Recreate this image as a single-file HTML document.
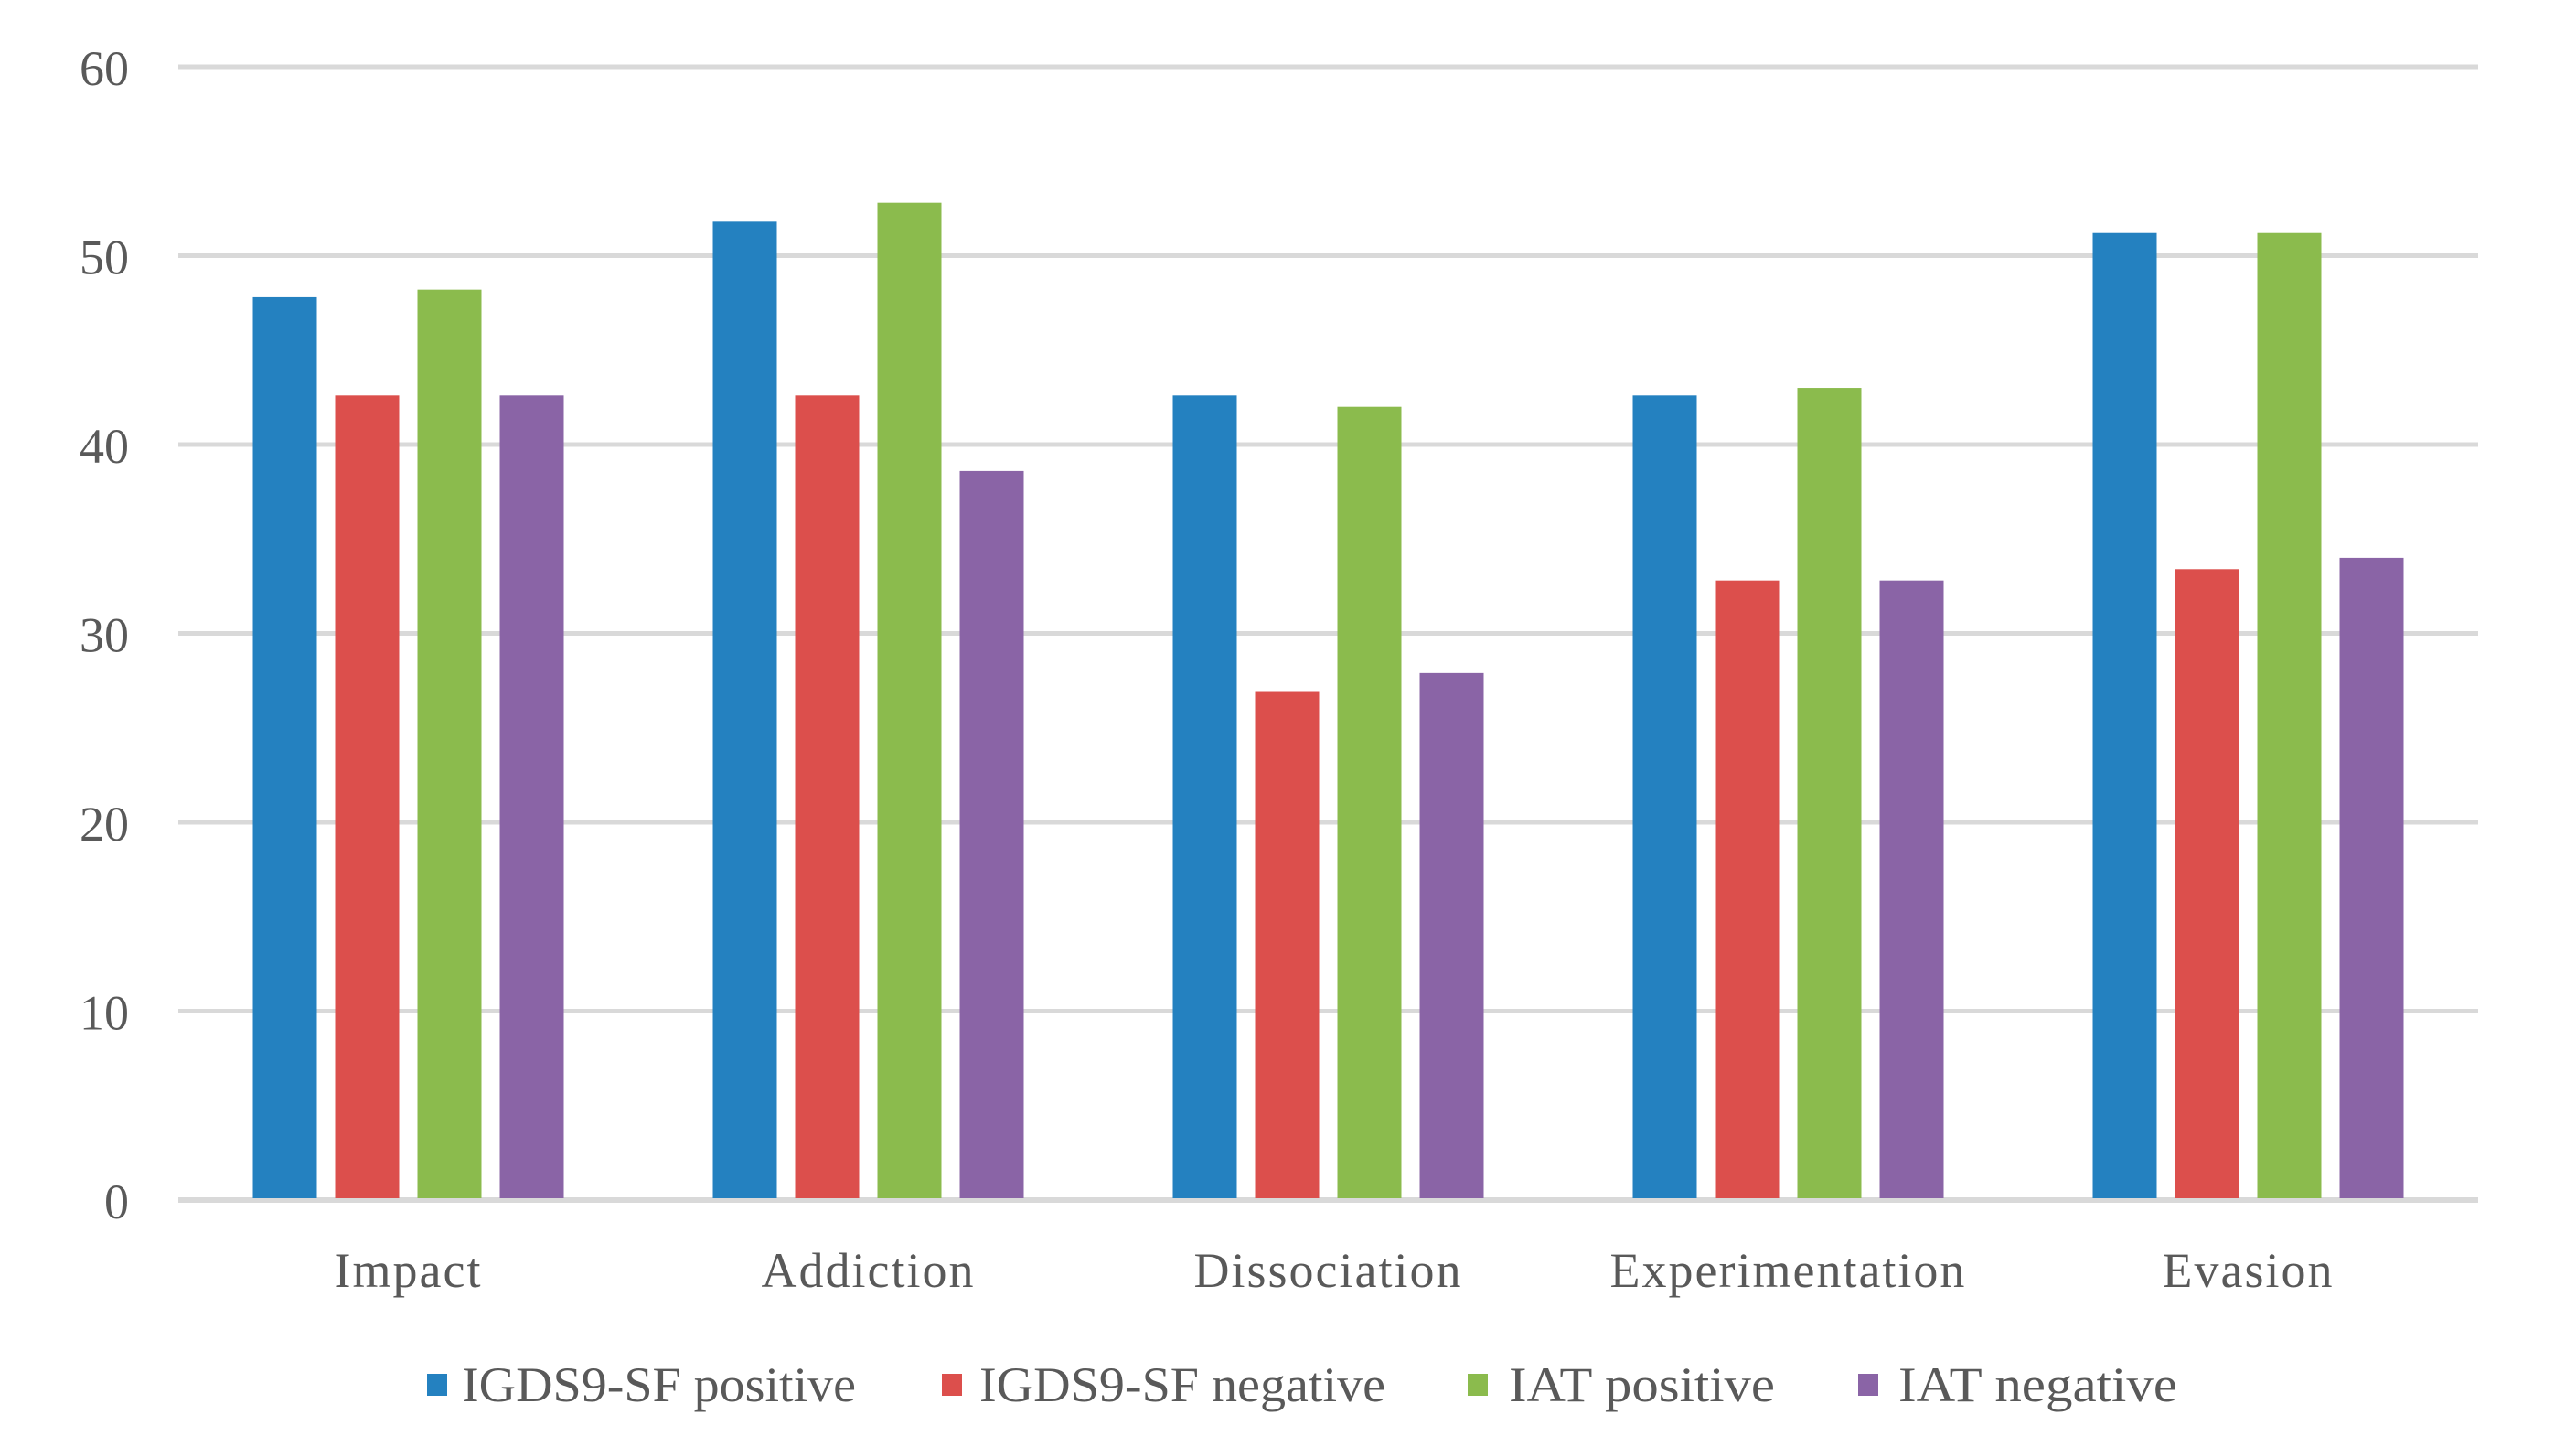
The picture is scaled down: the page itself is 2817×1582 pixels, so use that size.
<!DOCTYPE html>
<html><head><meta charset="utf-8"><style>
html,body{margin:0;padding:0;background:#fff;}
svg{display:block;}
text{font-family:"Liberation Serif",serif;fill:#595959;}
</style></head><body>
<svg id="chart" width="2817" height="1582" viewBox="0 0 2817 1582" xmlns="http://www.w3.org/2000/svg">
<g id="grid"></g>
<g id="yticks"></g>
<g id="bars"></g>
<g id="xlabels"></g>
<g id="legend"></g>
</svg>
<script>
const categories = ["Impact","Addiction","Dissociation","Experimentation","Evasion"];
const seriesNames = ["IGDS9-SF positive","IGDS9-SF negative","IAT positive","IAT negative"];
const igdsPositive = [47.8, 51.8, 42.6, 42.6, 51.2];
const igdsNegative = [42.6, 42.6, 26.9, 32.8, 33.4];
const iatPositive = [48.2, 52.8, 42.0, 43.0, 51.2];
const iatNegative = [42.6, 38.6, 27.9, 32.8, 34.0];
const yTicks = [0,10,20,30,40,50,60];

const series = [igdsPositive, igdsNegative, iatPositive, iatNegative];
const colors = ["#2481c0","#dc4f4c","#8bbb4d","#8a64a6"];
const NS = "http://www.w3.org/2000/svg";
const plotL = 195, plotR = 2710, y0 = 1312, y60 = 73;
const yMax = 60;
function y(v){ return y0 - (v / yMax) * (y0 - y60); }
const groupW = (plotR - plotL) / categories.length;
function xc(i){ return plotL + groupW * (i + 0.5); }
const barW = 70, gap = 20;

function mk(tag, attrs, parent){
  const e = document.createElementNS(NS, tag);
  for (const k in attrs) e.setAttribute(k, attrs[k]);
  parent.appendChild(e);
  return e;
}
const grid = document.getElementById('grid');
const yt = document.getElementById('yticks');
yTicks.forEach(t => {
  const l = mk('line', {x1: plotL, x2: plotR, y1: y(t), y2: y(t), stroke: '#d9d9d9', 'stroke-width': t === 0 ? 6 : 5}, grid);
  
  
  const tx = mk('text', {x: 141, y: y(t) + 20, 'text-anchor': 'end', 'font-size': 54}, yt);
  tx.textContent = t;
  
  
});
const bars = document.getElementById('bars');
const total = 4 * barW + 3 * gap;
categories.forEach((c, i) => {
  series.forEach((s, j) => {
    const x = xc(i) - total / 2 + j * (barW + gap);
    const r = mk('rect', {x: x, y: y(s[i]), width: barW, height: y0 - y(s[i]) - 2, fill: colors[j]}, bars);
    
    
  });
});
const xl = document.getElementById('xlabels');
categories.forEach((c, i) => {
  const t = mk('text', {x: xc(i), y: 1407, 'text-anchor': 'middle', 'font-size': 54, 'letter-spacing': 2}, xl);
  t.textContent = c;
  
  
});
const lg = document.getElementById('legend');
const legX = [467, 1030, 1605, 2032];
const legTextX = [505, 1071, 1650, 2076];
const legTextW = [431, 444, 291, 305];
seriesNames.forEach((n, j) => {
  const g = mk('g', {}, lg);
  
  
  const sq = mk('rect', {x: legX[j], y: 1502, width: 22, height: 24, fill: colors[j]}, g);
  
  
  const t = mk('text', {x: legTextX[j], y: 1532, 'font-size': 54, textLength: legTextW[j], lengthAdjust: 'spacingAndGlyphs'}, g);
  t.textContent = n;
  
  
});
</script>
</body></html>
